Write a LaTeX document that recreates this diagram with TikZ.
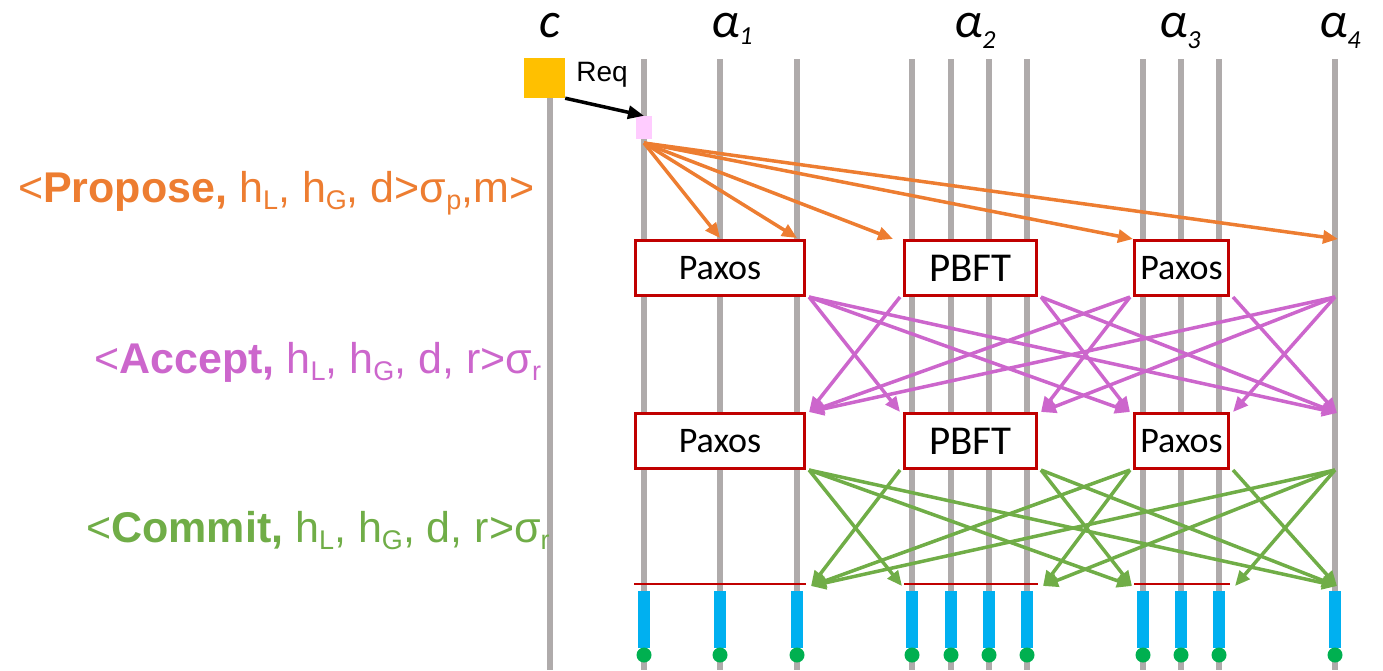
\documentclass[tikz,border=0pt]{standalone}
\usepackage{fontspec}
\setmainfont{Liberation Sans}
\newfontfamily\calf{Carlito}
\usetikzlibrary{arrows.meta}
\definecolor{lanec}{RGB}{175,171,171}
\definecolor{orng}{RGB}{237,125,49}
\definecolor{pnk}{RGB}{204,102,204}
\definecolor{grn}{RGB}{112,173,71}
\definecolor{bred}{RGB}{192,0,0}
\definecolor{ylw}{RGB}{255,192,0}
\definecolor{blu}{RGB}{0,176,240}
\definecolor{dotg}{RGB}{0,176,80}
\definecolor{lpink}{RGB}{255,204,255}
\newcommand\sbs[1]{\raisebox{-7pt}{\fontsize{27}{27}\selectfont #1}}
\newcommand\asub[2]{\raisebox{#1}{\fontsize{26}{26}\selectfont #2}}
\begin{document}
\begin{tikzpicture}[x=1pt,y=-1pt,
  lane/.style={draw=lanec, line width=5.5pt},
  cbox/.style={draw=bred, line width=3pt, fill=white, inner sep=0pt, minimum height=55pt},
  paxf/.style={font=\calf\fontsize{36}{36}\selectfont},
  pbff/.style={font=\calf\fontsize{41}{41}\selectfont},
  ttl/.style={font=\calf\itshape\fontsize{50}{50}\selectfont, inner sep=0pt, anchor=base west},
  msg/.style={font=\fontsize{43}{50}\selectfont, inner sep=0pt, anchor=base west},
  tipo/.style={draw=orng, line width=3.5pt, -{Triangle[length=15pt,width=13pt]}},
  tipa/.style={draw=pnk, line width=3.5pt, -{Triangle[length=15pt,width=13pt]}},
  tipc/.style={draw=grn, line width=3.5pt, -{Triangle[length=15pt,width=13pt]}},
  decl/.style={draw=bred, line width=2.5pt},
]
\useasboundingbox (0,0) rectangle (1383,670);

% lanes
\foreach \x in {550,644,720,797,912,951,989,1027,1143,1181,1219,1335}
  \draw[lane] (\x,59) -- (\x,670);

% titles
\node[ttl] (tc) at (539,37) {c};
\node[ttl] (ta1) at (711,37) {α\asub{-7pt}{1}};
\node[ttl] (ta2) at (954,37) {α\asub{-11pt}{2}};
\node[ttl] (ta3) at (1159,37) {α\asub{-11pt}{3}};
\node[ttl] (ta4) at (1319,37) {α\asub{-11pt}{4}};

% client and leader
\node[fill=ylw, minimum width=41pt, minimum height=40pt, inner sep=0pt] (cl) at (544.5,78) {};
\node[fill=lpink, minimum width=16pt, minimum height=23pt, inner sep=0pt] (ld) at (644,127.5) {};
\node[font=\fontsize{28}{28}\selectfont, inner sep=0pt] (req) at (602,75) {Req};
\draw[line width=3.5pt, -{Triangle[length=16pt,width=13pt]}] (cl.south east) -- (ld.north);

% message labels
\node[msg, text=orng] (lp) at (18,202) {<\textbf{Propose,} h\sbs{L}, h\sbs{G}, d>σ\sbs{p},m>};
\node[msg, text=pnk] (la) at (94,373) {<\textbf{Accept,} h\sbs{L}, h\sbs{G}, d, r>σ\sbs{r}};
\node[msg, text=grn] (lc) at (86,542) {<\textbf{Commit,} h\sbs{L}, h\sbs{G}, d, r>σ\sbs{r}};

% consensus boxes
\node[cbox, paxf, minimum width=169pt] (pa1) at (720,268) {Paxos};
\node[cbox, pbff, minimum width=132pt] (pb1) at (970.5,268) {PBFT};
\node[cbox, paxf, minimum width=94pt] (pc1) at (1181.5,268) {Paxos};
\node[cbox, paxf, minimum width=169pt] (pa2) at (720,441) {Paxos};
\node[cbox, pbff, minimum width=132pt] (pb2) at (970.5,441) {PBFT};
\node[cbox, paxf, minimum width=94pt] (pc2) at (1181.5,441) {Paxos};

% alpha4 points
\coordinate (d1s) at (1335,297);
\coordinate (d1t) at (1337,413);
\coordinate (d2s) at (1335,470);
\coordinate (d2t) at (1337,586);

% propose arrows
\coordinate (ls) at (644,143);
\coordinate (o1) at (720,238);
\coordinate (o2) at (797,238);
\coordinate (o3) at (893,239);
\coordinate (o4) at (1133,239);
\coordinate (o5) at (1338,239);
\foreach \t in {o1,o2,o3,o4,o5} \draw[tipo] (ls) -- (\t);

% accept arrows
\draw[tipa] ([xshift=3pt]pa1.south east) -- ([xshift=-3pt]pb2.north west);
\draw[tipa] ([xshift=3pt]pa1.south east) -- ([xshift=-3pt]pc2.north west);
\draw[tipa] ([xshift=3pt]pa1.south east) -- (d1t);
\draw[tipa] ([xshift=-3pt]pb1.south west) -- ([xshift=3pt]pa2.north east);
\draw[tipa] ([xshift=3pt]pb1.south east) -- ([xshift=-3pt]pc2.north west);
\draw[tipa] ([xshift=3pt]pb1.south east) -- (d1t);
\draw[tipa] ([xshift=-3pt]pc1.south west) -- ([xshift=3pt]pa2.north east);
\draw[tipa] ([xshift=-3pt]pc1.south west) -- ([xshift=3pt]pb2.north east);
\draw[tipa] ([xshift=3pt]pc1.south east) -- (d1t);
\draw[tipa] (d1s) -- ([xshift=3pt]pa2.north east);
\draw[tipa] (d1s) -- ([xshift=3pt]pb2.north east);
\draw[tipa] (d1s) -- ([xshift=3pt]pc2.north east);

% decision lines
\coordinate (ra1) at (634,584); \coordinate (ra2) at (806,584);
\coordinate (rb1) at (904,584); \coordinate (rb2) at (1038,584);
\coordinate (rc1) at (1134,584); \coordinate (rc2) at (1230,584);
\draw[decl] (ra1) -- (ra2);
\draw[decl] (rb1) -- (rb2);
\draw[decl] (rc1) -- (rc2);

% commit arrows
\draw[tipc] ([xshift=3pt]pa2.south east) -- ([xshift=-2pt,yshift=-2pt]rb1);
\draw[tipc] ([xshift=3pt]pa2.south east) -- ([xshift=-2pt,yshift=-2pt]rc1);
\draw[tipc] ([xshift=3pt]pa2.south east) -- (d2t);
\draw[tipc] ([xshift=-3pt]pb2.south west) -- ([xshift=5pt,yshift=-2pt]ra2);
\draw[tipc] ([xshift=3pt]pb2.south east) -- ([xshift=-2pt,yshift=-2pt]rc1);
\draw[tipc] ([xshift=3pt]pb2.south east) -- (d2t);
\draw[tipc] ([xshift=-3pt]pc2.south west) -- ([xshift=5pt,yshift=-2pt]ra2);
\draw[tipc] ([xshift=-3pt]pc2.south west) -- ([xshift=5pt,yshift=-2pt]rb2);
\draw[tipc] ([xshift=3pt]pc2.south east) -- (d2t);
\draw[tipc] (d2s) -- ([xshift=5pt,yshift=-2pt]ra2);
\draw[tipc] (d2s) -- ([xshift=5pt,yshift=-2pt]rb2);
\draw[tipc] (d2s) -- ([xshift=5pt,yshift=-2pt]rc2);

% execution bars and dots
\foreach \x in {644,720,797,912,951,989,1027,1143,1181,1219,1335} {
  \fill[blu] (\x-6,591) rectangle (\x+6,648);
  \fill[dotg] (\x,655) circle[radius=7.5pt];
}
\end{tikzpicture}
\end{document}
